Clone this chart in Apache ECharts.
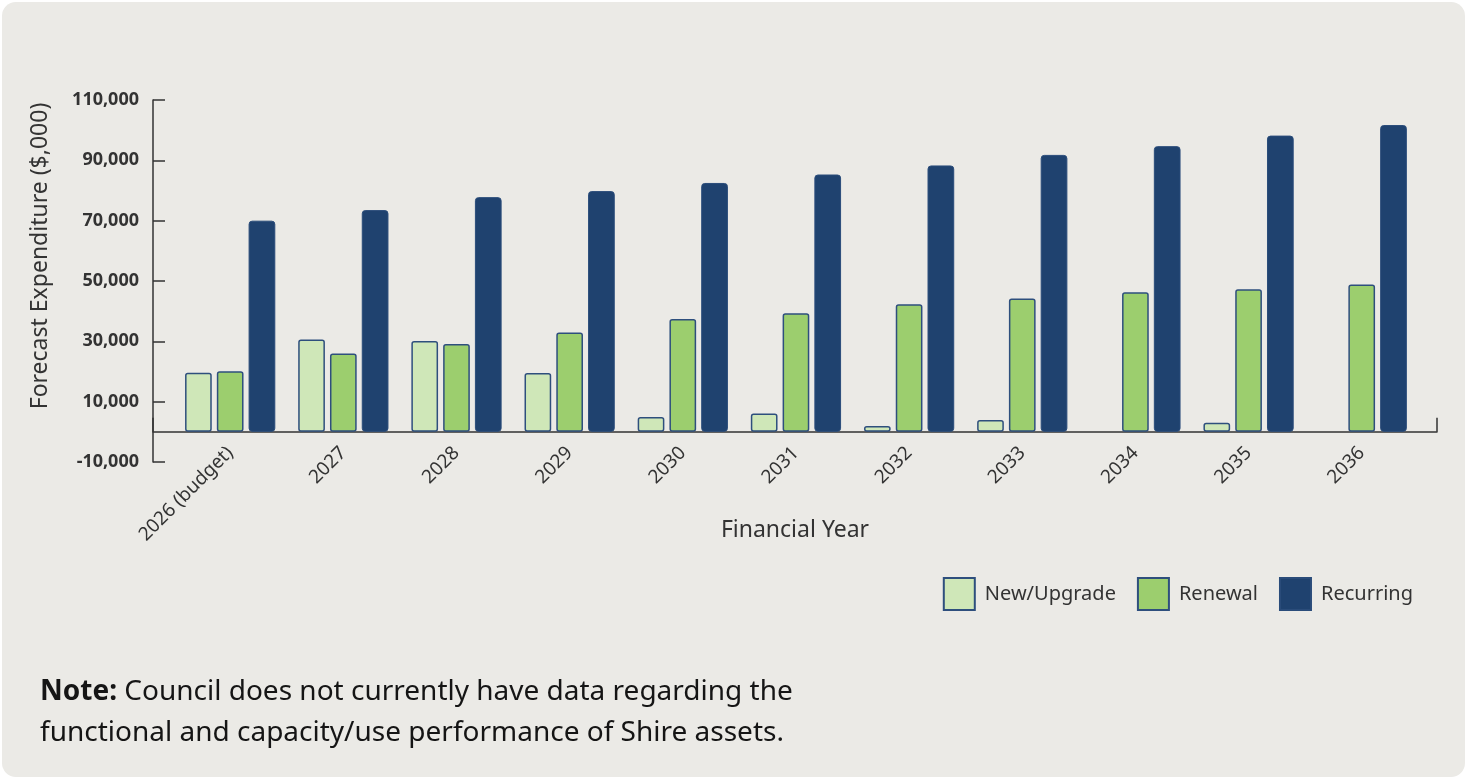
<!DOCTYPE html>
<html>
<head>
<meta charset="utf-8">
<title>Forecast Expenditure</title>
<script src="https://cdn.jsdelivr.net/npm/echarts@6/dist/echarts.min.js"></script>
<style>
  html, body { margin: 0; padding: 0; background: #ffffff; }
  #card {
    position: absolute; left: 2px; top: 2px; width: 1463px; height: 775px;
    background: #EBEAE6; border-radius: 14px;
  }
  #chart { position: absolute; left: 0; top: 0; width: 1467px; height: 779px; }
</style>
</head>
<body>
<div id="card"></div>
<div id="chart"></div>
<script>
// Financial years shown along the x axis
const years = ['2026 (budget)', '2027', '2028', '2029', '2030', '2031', '2032', '2033', '2034', '2035', '2036'];

// Forecast expenditure by category ($,000)
const newUpgrade = [19600, 30600, 30100, 19500, 4900, 6100, 1900, 3900, null, 3000, null];
const renewal    = [20100, 26000, 29100, 32900, 37400, 39300, 42300, 44200, 46300, 47300, 48800];
const recurring  = [70000, 73500, 77800, 79800, 82500, 85300, 88300, 91800, 94700, 98200, 101700];

// Value axis ticks
const yMin = -10000, yMax = 110000, yStep = 20000;

const FONT = "'Noto Sans', sans-serif";
const INK = '#333333';
const EDGE = '#2E4F7D';

const chart = echarts.init(document.getElementById('chart'), null, { renderer: 'canvas' });

const barBase = { type: 'bar', xAxisIndex: 1, yAxisIndex: 1, barWidth: 26.7, barGap: '19%' };

chart.setOption({
  animation: false,
  backgroundColor: 'transparent',
  textStyle: { fontFamily: FONT },
  grid: [
    // frame grid: carries the visible axes
    { left: 153, right: 30, top: 100, bottom: 317 },
    // plot grid: carries the bars, inset from the frame
    { left: 173.6, right: 48.7, top: 100, bottom: 317 }
  ],
  xAxis: [
    {
      gridIndex: 0, type: 'value', min: 0, max: 1, interval: 1,
      axisLine: { show: true, onZero: true, lineStyle: { color: INK, width: 1.5 } },
      axisTick: { show: true, inside: true, length: 14, lineStyle: { color: INK, width: 1.5 } },
      axisLabel: { show: false }, splitLine: { show: false }
    },
    {
      // category labels sit just under the zero line
      gridIndex: 1, type: 'category', data: years, offset: -30,
      axisLine: { show: false, onZero: false },
      axisTick: { show: false },
      axisLabel: { interval: 0, rotate: 45, margin: 18, fontSize: 19, color: INK, fontFamily: FONT }
    }
  ],
  yAxis: [
    {
      gridIndex: 0, type: 'value', min: yMin, max: yMax, interval: yStep,
      axisLine: { show: true, lineStyle: { color: INK, width: 1.5 } },
      axisTick: { show: true, inside: true, length: 12, lineStyle: { color: INK, width: 1.5 } },
      axisLabel: {
        margin: 14, fontSize: 18, fontWeight: 'bold', color: INK, fontFamily: FONT,
        formatter: v => v.toLocaleString('en-US')
      },
      splitLine: { show: false }
    },
    {
      gridIndex: 1, type: 'value', min: yMin, max: yMax, interval: yStep,
      axisLine: { show: false }, axisTick: { show: false },
      axisLabel: { show: false }, splitLine: { show: false }
    }
  ],
  legend: {
    right: 54, top: 577, padding: 0, itemGap: 21,
    itemWidth: 31, itemHeight: 32, icon: 'rect',
    textStyle: { fontSize: 20, color: INK, fontFamily: FONT, padding: [0, 0, 0, 5] },
    data: ['New/Upgrade', 'Renewal', 'Recurring']
  },
  series: [
    Object.assign({}, barBase, {
      name: 'New/Upgrade', data: newUpgrade,
      itemStyle: { color: '#CFE7B8', borderColor: EDGE, borderWidth: 1.5, borderRadius: 2 }
    }),
    Object.assign({}, barBase, {
      name: 'Renewal', data: renewal,
      itemStyle: { color: '#9CCE6E', borderColor: EDGE, borderWidth: 1.5, borderRadius: 2 }
    }),
    Object.assign({}, barBase, {
      name: 'Recurring', data: recurring,
      itemStyle: { color: '#1F426F', borderColor: '#2A4C7A', borderWidth: 1, borderRadius: 3 }
    })
  ],
  graphic: [
    {
      type: 'text', x: 40, y: 256, rotation: Math.PI / 2,
      style: {
        text: 'Forecast Expenditure ($,000)', fill: INK,
        font: "23px 'Noto Sans', sans-serif", textAlign: 'center', textVerticalAlign: 'middle'
      }
    },
    {
      type: 'text', x: 795, y: 530,
      style: {
        text: 'Financial Year', fill: INK,
        font: "23px 'Noto Sans', sans-serif", textAlign: 'center', textVerticalAlign: 'middle'
      }
    },
    {
      type: 'text', left: 40, top: 672,
      style: {
        text: '{b|Note:} Council does not currently have data regarding the\nfunctional and capacity/use performance of Shire assets.',
        fill: '#151515', fontFamily: FONT, fontSize: 28, lineHeight: 41,
        rich: { b: { fontWeight: 'bold', fontSize: 28, fontFamily: FONT, fill: '#151515' } }
      }
    }
  ]
});
</script>
</body>
</html>
